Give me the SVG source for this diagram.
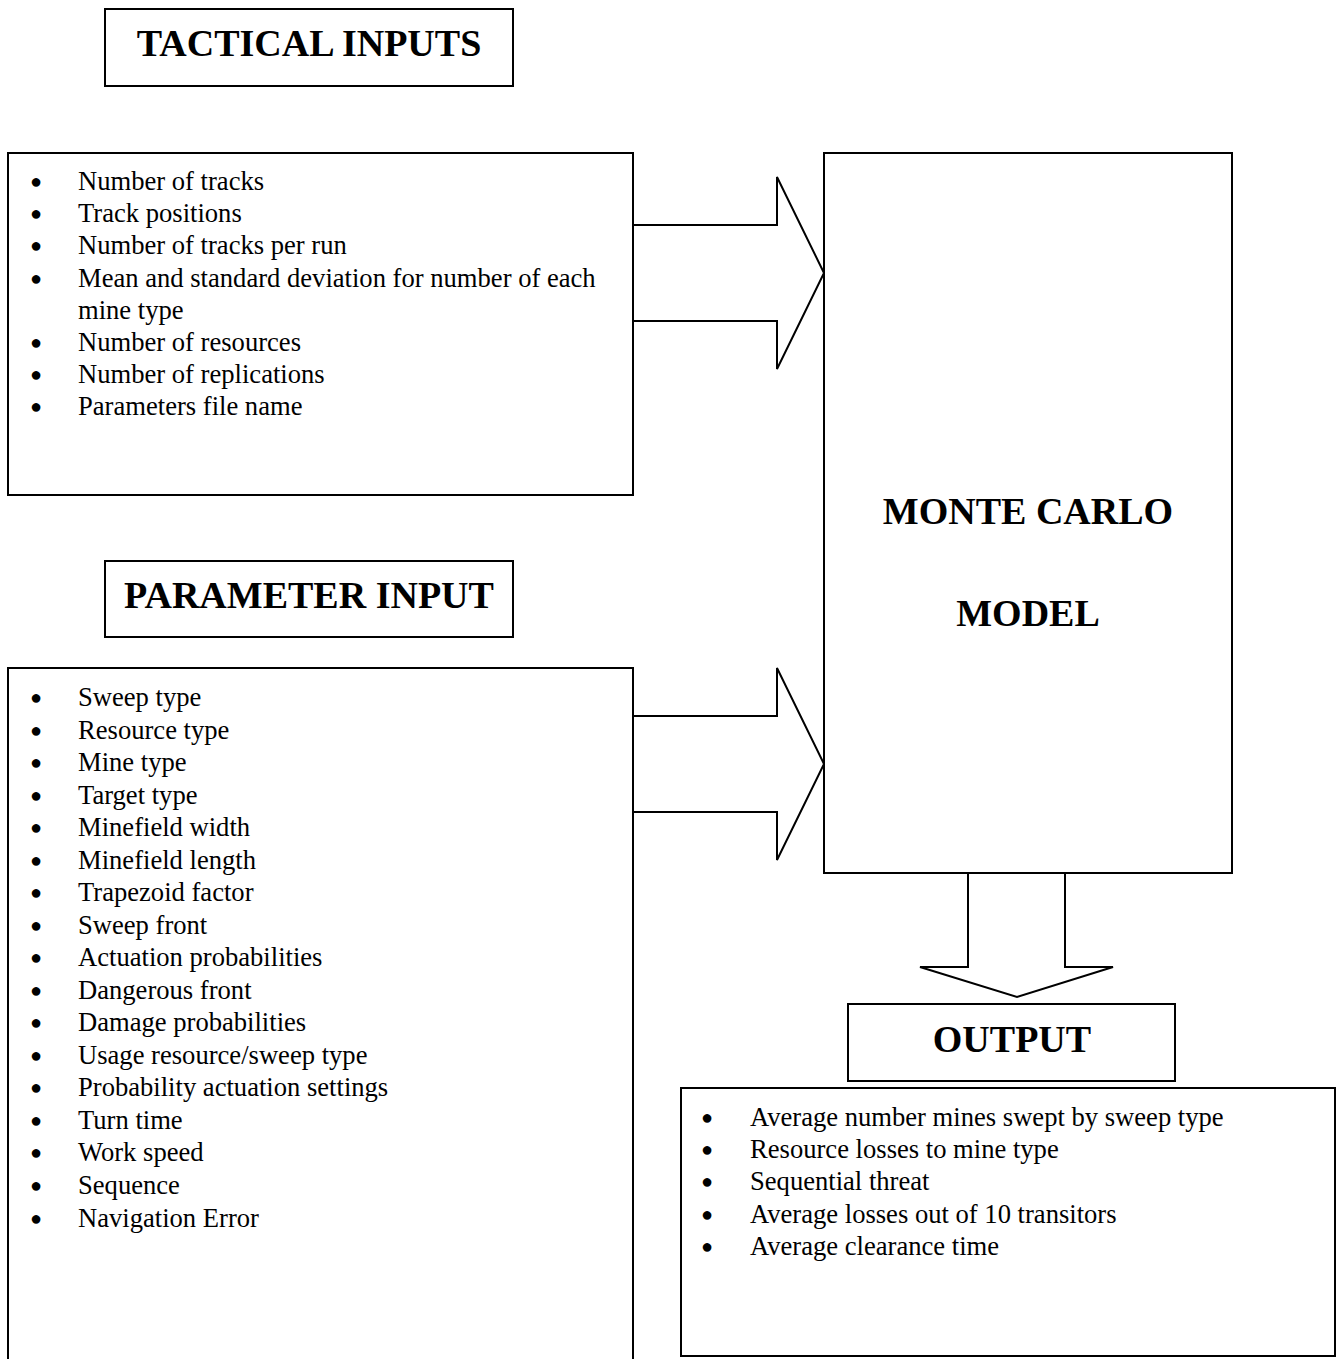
<svg xmlns="http://www.w3.org/2000/svg" width="1342" height="1359" viewBox="0 0 1342 1359">
<style>
.box{fill:#fff;stroke:#000;stroke-width:2}
.arrow{fill:#fff;stroke:#000;stroke-width:2;stroke-linejoin:miter}
.h{font-family:"Liberation Serif","Times New Roman",serif;font-weight:bold;font-size:38px;text-anchor:middle}
.t{font-family:"Liberation Serif","Times New Roman",serif;font-size:26.6px}
.b{font-family:"Liberation Sans","DejaVu Sans",sans-serif;font-size:20px;text-anchor:middle}
</style>
<rect width="1342" height="1359" fill="#fff"/>
<g id="connectors">
<polygon class="arrow" points="633,225 777,225 777,177 824,273 777,369 777,321 633,321"/>
<polygon class="arrow" points="633,716 777,716 777,668 824,764 777,860 777,812 633,812"/>
<polygon class="arrow" points="968,873 1065,873 1065,967 1113,967 1017,997 920,967 968,967"/>
</g>
<g id="tactical-inputs-title">
<rect class="box" x="105" y="9" width="408" height="77"/>
<text class="h" x="309" y="56">TACTICAL INPUTS</text>
</g>
<g id="tactical-inputs-list">
<rect class="box" x="8" y="153" width="625" height="342"/>
<g class="b">
<text x="36" y="188">●</text>
<text x="36" y="220">●</text>
<text x="36" y="252">●</text>
<text x="36" y="285">●</text>
<text x="36" y="349">●</text>
<text x="36" y="381">●</text>
<text x="36" y="413">●</text>
</g>
<g class="t">
<text x="78" y="190">Number of tracks</text>
<text x="78" y="222">Track positions</text>
<text x="78" y="254">Number of tracks per run</text>
<text x="78" y="287">Mean and standard deviation for number of each</text>
<text x="78" y="319">mine type</text>
<text x="78" y="351">Number of resources</text>
<text x="78" y="383">Number of replications</text>
<text x="78" y="415">Parameters file name</text>
</g>
</g>
<g id="parameter-input-title">
<rect class="box" x="105" y="561" width="408" height="76"/>
<text class="h" x="309" y="608">PARAMETER INPUT</text>
</g>
<g id="parameter-input-list">
<rect class="box" x="8" y="668" width="625" height="720"/>
<g class="b">
<text x="36" y="704">●</text>
<text x="36" y="737">●</text>
<text x="36" y="769">●</text>
<text x="36" y="802">●</text>
<text x="36" y="834">●</text>
<text x="36" y="867">●</text>
<text x="36" y="899">●</text>
<text x="36" y="932">●</text>
<text x="36" y="964">●</text>
<text x="36" y="997">●</text>
<text x="36" y="1029">●</text>
<text x="36" y="1062">●</text>
<text x="36" y="1094">●</text>
<text x="36" y="1127">●</text>
<text x="36" y="1159">●</text>
<text x="36" y="1192">●</text>
<text x="36" y="1225">●</text>
</g>
<g class="t">
<text x="78" y="706">Sweep type</text>
<text x="78" y="739">Resource type</text>
<text x="78" y="771">Mine type</text>
<text x="78" y="804">Target type</text>
<text x="78" y="836">Minefield width</text>
<text x="78" y="869">Minefield length</text>
<text x="78" y="901">Trapezoid factor</text>
<text x="78" y="934">Sweep front</text>
<text x="78" y="966">Actuation probabilities</text>
<text x="78" y="999">Dangerous front</text>
<text x="78" y="1031">Damage probabilities</text>
<text x="78" y="1064">Usage resource/sweep type</text>
<text x="78" y="1096">Probability actuation settings</text>
<text x="78" y="1129">Turn time</text>
<text x="78" y="1161">Work speed</text>
<text x="78" y="1194">Sequence</text>
<text x="78" y="1227">Navigation Error</text>
</g>
</g>
<g id="monte-carlo-model">
<rect class="box" x="824" y="153" width="408" height="720"/>
<text class="h" x="1028" y="524">MONTE CARLO</text>
<text class="h" x="1028" y="626">MODEL</text>
</g>
<g id="output-title">
<rect class="box" x="848" y="1004" width="327" height="77"/>
<text class="h" x="1012" y="1052">OUTPUT</text>
</g>
<g id="output-list">
<rect class="box" x="681" y="1088" width="654" height="268"/>
<g class="b">
<text x="707" y="1124">●</text>
<text x="707" y="1156">●</text>
<text x="707" y="1188">●</text>
<text x="707" y="1221">●</text>
<text x="707" y="1253">●</text>
</g>
<g class="t">
<text x="750" y="1126">Average number mines swept by sweep type</text>
<text x="750" y="1158">Resource losses to mine type</text>
<text x="750" y="1190">Sequential threat</text>
<text x="750" y="1223">Average losses out of 10 transitors</text>
<text x="750" y="1255">Average clearance time</text>
</g>
</g>
</svg>
